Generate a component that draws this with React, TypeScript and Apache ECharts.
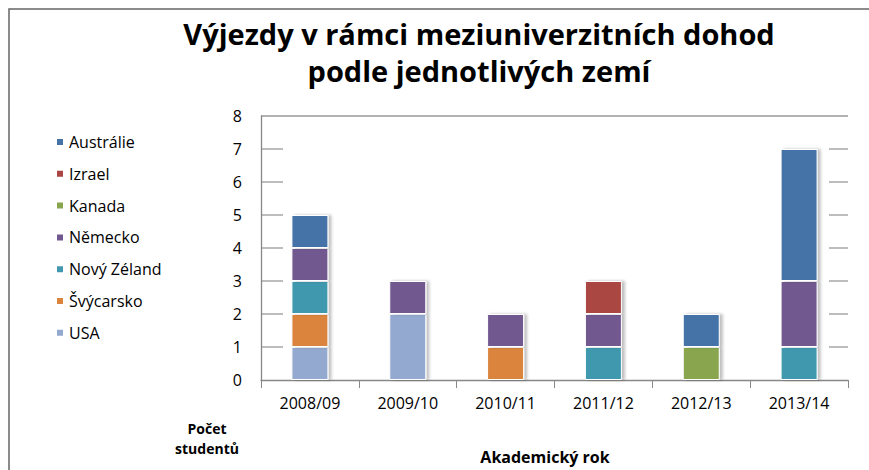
import React, { useEffect, useRef } from "react";
import * as echarts from "echarts";

const categories = ["2008/09", "2009/10", "2010/11", "2011/12", "2012/13", "2013/14"];
const usa = [1, 2, 0, 0, 0, 0];
const svycarsko = [1, 0, 1, 0, 0, 0];
const novyZeland = [1, 0, 0, 1, 0, 1];
const nemecko = [1, 1, 1, 1, 0, 2];
const kanada = [0, 0, 0, 0, 1, 0];
const izrael = [0, 0, 0, 1, 0, 0];
const australie = [1, 0, 0, 0, 1, 4];
const gridValues = [1, 2, 3, 4, 5, 6, 7, 8];

const FONT = "'Open Sans', 'Noto Sans', sans-serif";

export default function App() {
  const ref = useRef<HTMLDivElement>(null);
  useEffect(() => {
    if (!ref.current) return;
    const chart = echarts.init(ref.current, null, { renderer: "svg" });
    const stackSeries = [
      { name: "USA", data: usa, color: "#93A9CF" },
      { name: "Švýcarsko", data: svycarsko, color: "#DB843D" },
      { name: "Nový Zéland", data: novyZeland, color: "#4198AF" },
      { name: "Německo", data: nemecko, color: "#71588F" },
      { name: "Kanada", data: kanada, color: "#89A54E" },
      { name: "Izrael", data: izrael, color: "#AA4643" },
      { name: "Austrálie", data: australie, color: "#4572A7" },
    ];
    const option: any = {
      animation: false,
      backgroundColor: "#fff",
      textStyle: { fontFamily: FONT },
      title: {
        text: "Výjezdy v rámci meziuniverzitních dohod\npodle jednotlivých zemí",
        left: 474,
        top: 10,
        textAlign: "center",
        textStyle: { fontFamily: FONT, fontSize: 29, fontWeight: "bold", color: "#000", lineHeight: 37 },
      },
      legend: {
        orient: "vertical",
        left: 50,
        top: 129,
        itemWidth: 8,
        itemHeight: 8,
        itemGap: 15.8,
        icon: "rect",
        data: ["Austrálie", "Izrael", "Kanada", "Německo", "Nový Zéland", "Švýcarsko", "USA"],
        textStyle: { fontFamily: FONT, fontSize: 16, color: "#000" },
      },
      grid: { left: 261, right: 21, top: 116, height: 270, containLabel: false },
      xAxis: {
        type: "category",
        data: categories,
        name: "Akademický rok",
        nameLocation: "middle",
        nameGap: 69,
        nameTextStyle: { fontFamily: FONT, fontSize: 16, fontWeight: "bold", color: "#000", padding: [0, 19, 0, 0] },
        axisLine: { lineStyle: { color: "#888", width: 1.3 } },
        axisTick: { show: true, length: 8, lineStyle: { color: "#888" } },
        axisLabel: { fontFamily: FONT, fontSize: 16, color: "#000", margin: 15 },
      },
      yAxis: {
        type: "value",
        min: 0,
        max: 8,
        interval: 1,
        axisLine: { show: true, lineStyle: { color: "#888", width: 1.3 } },
        axisTick: { show: false },
        splitLine: { show: false },
        axisLabel: { fontFamily: FONT, fontSize: 16, color: "#000", margin: 19 },
      },
      graphic: [
        {
          type: "rect",
          shape: { x: 9, y: 9, width: 880, height: 480 },
          style: { fill: "none", stroke: "#666", lineWidth: 1.5 },
          silent: true,
        },
        {
          type: "text",
          x: 207,
          y: 418,
          style: {
            text: "Počet\nstudentů",
            fontFamily: FONT,
            fontSize: 14,
            fontWeight: "bold",
            fill: "#000",
            align: "center",
            verticalAlign: "top",
            lineHeight: 20,
          },
        },
      ],
      series: [
        {
          type: "custom",
          name: "grid",
          silent: true,
          z: 0,
          data: gridValues.map((v) => [0, v]),
          renderItem: (params: any, api: any) => {
            const cs = params.coordSys;
            const y = api.coord([0, api.value(1)])[1];
            const v = api.value(1);
            const style = { stroke: "#999", lineWidth: 1.3 };
            if (v === 8) {
              return { type: "line", shape: { x1: cs.x, y1: y, x2: cs.x + cs.width, y2: y }, style };
            }
            return {
              type: "group",
              children: [
                { type: "line", shape: { x1: cs.x, y1: y, x2: cs.x + 22, y2: y }, style },
                { type: "line", shape: { x1: cs.x + cs.width - 19, y1: y, x2: cs.x + cs.width, y2: y }, style },
              ],
            };
          },
        },
        ...stackSeries.map((s) => ({
          type: "bar",
          name: s.name,
          stack: "total",
          barWidth: 37,
          z: 2,
          data: s.data.map((v) => (v === 0 ? "-" : v)),
          itemStyle: {
            color: s.color,
            borderColor: "#fff",
            borderWidth: 1,
            shadowColor: "rgba(0,0,0,0.25)",
            shadowBlur: 3,
            shadowOffsetX: 3,
          },
        })),
      ],
    };
    chart.setOption(option);
    return () => chart.dispose();
  }, []);
  return (
    <div
      ref={ref}
      style={{ position: "fixed", left: 0, top: 0, width: 869, height: 470 }}
    />
  );
}
